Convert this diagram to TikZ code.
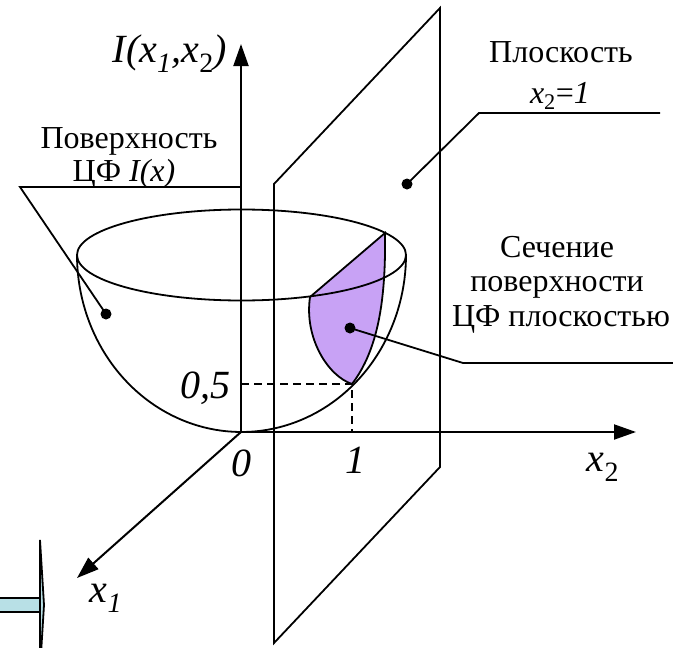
\documentclass[tikz,border=0pt]{standalone}
\usepackage{fontspec}
\setmainfont{Liberation Serif}
\usetikzlibrary{arrows.meta}
\definecolor{secfill}{RGB}{200,162,245}
\definecolor{arrfill}{RGB}{184,224,230}
\begin{document}
\begin{tikzpicture}[x=1pt,y=-1pt,
  ln/.style={line width=1.8pt},
  axisline/.style={line width=2pt,-{Triangle[length=22pt,width=15pt]}},
  dotc/.style={circle,fill=black,inner sep=0pt,minimum size=11pt},
  lbl/.style={font=\fontsize{32}{36}\selectfont, inner sep=0pt},
  mlbl/.style={font=\fontsize{40}{44}\selectfont\itshape, inner sep=0pt},
  dsh/.style={line width=1.8pt,dash pattern=on 8pt off 5pt},
]
\useasboundingbox (0,0) rectangle (673,648);

% plane x2 = 1
\coordinate (pBL) at (274,643);
\coordinate (pTL) at (274,184);
\coordinate (pTR) at (440,8);
\coordinate (pBR) at (440,467);
\draw[ln] (pBL) -- (pTL) -- (pTR) -- (pBR) -- cycle;

% section (filled)
\coordinate (sA) at (310,297);
\coordinate (sB) at (385,233);
\coordinate (sC) at (352,384);
\fill[secfill] (sA) -- (sB) .. controls (386,300) and (378,350) .. (sC)
   .. controls (328,376) and (304,338) .. (sA) -- cycle;
\draw[ln] (sA) -- (sB) .. controls (386,300) and (378,350) .. (sC)
   .. controls (328,376) and (304,338) .. (sA);

% bowl
\draw[ln] (241.5,255) ellipse [x radius=164.5, y radius=45.5];
\draw[ln] plot[domain=0:180, samples=90] ({241.5+164.5*cos(\x)},{255+177*sin(\x)});

% axes
\coordinate (O) at (241,432);
\coordinate (Itip) at (241,44);
\coordinate (X2tip) at (636,432);
\coordinate (X1tip) at (77,578);
\draw[axisline] (O) -- (Itip);
\draw[axisline] (O) -- (X2tip);
\draw[axisline] (O) -- (X1tip);

% dashed guides
\coordinate (hA) at (241,384);
\coordinate (hB) at (352,432);
\draw[dsh] (hA) -- (sC) -- (hB);

% axis labels
\node[mlbl] (lI) at (170,54) {I(x\textsubscript{1},x\textsubscript{\upshape 2})};
\node[mlbl] (l0) at (241,463) {0};
\node[mlbl] (l1) at (355,460) {1};
\node[mlbl] (l05) at (205,388) {0,5};
\node[mlbl] (lx1) at (106,598) {x\textsubscript{1}};
\node[mlbl] (lx2) at (603,467) {x\textsubscript{\upshape 2}};

% dots
\node[dotc] (dS) at (106,314) {};
\node[dotc] (dP) at (407,184) {};
\node[dotc] (dX) at (350,328) {};

% surface callout
\node[lbl,anchor=base] (tS1) at (129,148) {Поверхность};
\node[lbl,anchor=base] (tS2) at (124,181) {ЦФ \textit{I(x)}};
\coordinate (uS1) at (20,187);
\coordinate (uS2) at (241,187);
\draw[ln] (uS2) -- (uS1) -- (dS.center);

% plane callout
\node[lbl,anchor=base] (tP1) at (561,62) {Плоскость};
\node[lbl,anchor=base] (tP2) at (560,103) {\textit{x}\textsubscript{2}=\textit{1}};
\coordinate (uP1) at (479,113);
\coordinate (uP2) at (660,113);
\draw[ln] (uP2) -- (uP1) -- (dP.center);

% section callout
\node[lbl,anchor=base] (tX1) at (557,257) {Сечение};
\node[lbl,anchor=base] (tX2) at (557,291) {поверхности};
\node[lbl,anchor=base] (tX3) at (561,326) {ЦФ плоскостью};
\coordinate (uX1) at (463,363);
\coordinate (uX2) at (673,363);
\draw[ln] (uX2) -- (uX1) -- (dX.center);

% cropped block arrow at bottom left
\coordinate (bS1) at (-2,598);
\coordinate (bS2) at (41,612);
\draw[ln,fill=arrfill] (bS1) rectangle (bS2);
\coordinate (bH1) at (40,540);
\coordinate (bH2) at (44,605);
\coordinate (bH3) at (40,670);
\draw[ln,fill=arrfill] (bH1) -- (bH2) -- (bH3) -- cycle;
\end{tikzpicture}
\end{document}
